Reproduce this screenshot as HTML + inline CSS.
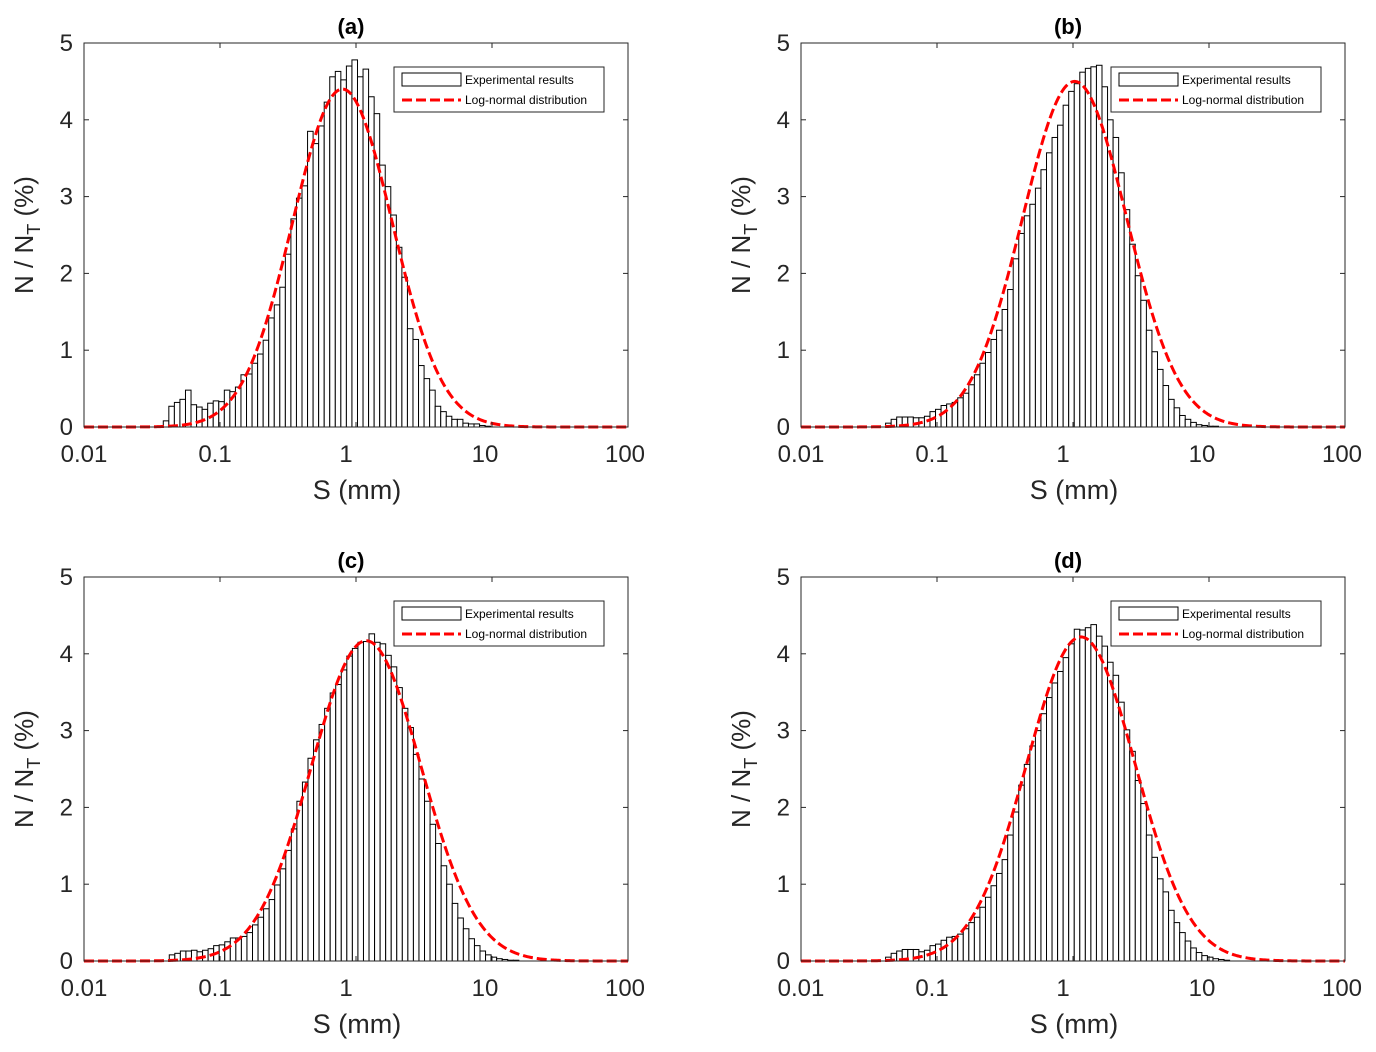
<!DOCTYPE html>
<html><head><meta charset="utf-8"><style>
html,body{margin:0;padding:0;background:#fff;}
svg{display:block;font-family:"Liberation Sans",Arial,sans-serif;}
</style></head><body>
<svg id="fig" width="1376" height="1052" viewBox="0 0 1376 1052"></svg>
<script>
// ---- data ----
const panelLabels = ["(a)","(b)","(c)","(d)"];
const xTickValues = [0.01,0.1,1,10,100];
const xTickLabels = ["0.01","0.1","1","10","100"];
const yTickValues = [0,1,2,3,4,5];
const binStartLog = [-1.417,-1.378,-1.373,-1.378];
const binWidthLog = [0.0408,0.0408,0.0408,0.0408];
const barsA = [0.08,0.27,0.32,0.36,0.48,0.29,0.26,0.23,0.31,0.34,0.33,0.48,0.46,0.52,0.68,0.69,0.83,0.95,1.13,1.42,1.59,1.82,2.25,2.71,2.98,3.14,3.85,3.69,3.92,4.23,4.56,4.63,4.52,4.70,4.78,4.56,4.66,4.30,4.08,3.41,3.13,2.76,2.34,1.95,1.28,1.14,0.80,0.63,0.48,0.27,0.20,0.14,0.10,0.10,0.05,0.04,0.04,0.02,0.01];
const barsB = [0.05,0.10,0.13,0.13,0.13,0.12,0.12,0.14,0.20,0.23,0.28,0.30,0.32,0.38,0.44,0.55,0.68,0.83,0.97,1.14,1.26,1.53,1.79,2.19,2.52,2.75,2.90,3.11,3.35,3.57,3.77,3.93,4.19,4.37,4.47,4.62,4.67,4.69,4.71,4.43,4.00,3.77,3.31,2.83,2.38,1.97,1.65,1.26,0.98,0.75,0.54,0.36,0.25,0.15,0.10,0.06,0.03,0.02,0.01,0.01];
const barsC = [0.08,0.10,0.13,0.13,0.14,0.12,0.14,0.16,0.20,0.21,0.25,0.30,0.30,0.32,0.37,0.47,0.57,0.68,0.80,0.99,1.20,1.44,1.72,2.08,2.33,2.64,2.88,3.08,3.29,3.49,3.60,3.79,3.97,4.07,4.15,4.16,4.26,4.15,4.13,3.98,3.83,3.56,3.29,3.04,2.69,2.37,2.08,1.78,1.53,1.24,1.00,0.75,0.56,0.42,0.29,0.20,0.13,0.08,0.05,0.03,0.02,0.01,0.01];
const barsD = [0.05,0.10,0.13,0.15,0.15,0.15,0.12,0.14,0.20,0.22,0.27,0.31,0.32,0.35,0.42,0.50,0.57,0.70,0.83,0.98,1.14,1.32,1.64,1.94,2.29,2.56,2.80,3.00,3.22,3.43,3.62,3.77,3.95,4.13,4.32,4.31,4.34,4.38,4.23,4.10,3.89,3.72,3.37,3.01,2.73,2.35,2.05,1.64,1.35,1.07,0.90,0.66,0.50,0.37,0.26,0.17,0.11,0.07,0.05,0.03,0.02,0.01];
const fitPeak = [4.40,4.50,4.17,4.22];
const fitMuLog = [-0.10,0.012,0.075,0.058];
const fitSigmaLog = [0.366,0.382,0.404,0.40];
</script>
<script>
const NS="http://www.w3.org/2000/svg";
const svg=document.getElementById('fig');
function mk(tag,attrs,parent){const e=document.createElementNS(NS,tag);for(const k in attrs)e.setAttribute(k,attrs[k]);(parent||svg).appendChild(e);return e;}
const allBars=[barsA,barsB,barsC,barsD];
const origins=[[84,43],[801,43],[84,577],[801,577]];
const labelShift=[0,-5,-10,-7,-3];
const W=544,H=384;
for(let p=0;p<4;p++){
  const [ox,oy]=origins[p];
  const g=mk('g',{});
  
  
  const X=v=>ox+(Math.log10(v)+2)/4*W;
  const XL=l=>ox+(l+2)/4*W;
  const Y=v=>oy+H-v/5*H;
  const bars=allBars[p];
  for(let i=0;i<bars.length;i++){
    const l0=binStartLog[p]+i*binWidthLog[p], l1=l0+binWidthLog[p];
    const r=mk('rect',{x:XL(l0),y:Y(bars[i]),width:XL(l1)-XL(l0),height:Y(0)-Y(bars[i]),fill:'#fff',stroke:'#000','stroke-width':1},g);
    
    
  }
  let d='';
  for(let k=0;k<=400;k++){
    const l=-2+4*k/400;
    const v=fitPeak[p]*Math.exp(-Math.pow(l-fitMuLog[p],2)/(2*fitSigmaLog[p]*fitSigmaLog[p]));
    d+=(k?'L':'M')+XL(l).toFixed(2)+','+Y(v).toFixed(2);
  }
  const c=mk('path',{d:d,fill:'none',stroke:'#f00','stroke-width':3,'stroke-dasharray':'10 4'},g);
  
  
  const fr=mk('rect',{x:ox,y:oy,width:W,height:H,fill:'none',stroke:'#262626','stroke-width':1},g);
  
  
  xTickValues.forEach((v,i)=>{
    const x=X(v);
    mk('line',{x1:x,x2:x,y1:oy+H,y2:oy+H-5,stroke:'#262626'},g);
    mk('line',{x1:x,x2:x,y1:oy,y2:oy+5,stroke:'#262626'},g);
    const t=mk('text',{x:x+labelShift[i],y:oy+H+35,'font-size':24,'text-anchor':'middle',fill:'#262626'},g);
    t.textContent=xTickLabels[i];
    
    
  });
  yTickValues.forEach(v=>{
    const y=Y(v);
    mk('line',{x1:ox,x2:ox+5,y1:y,y2:y,stroke:'#262626'},g);
    mk('line',{x1:ox+W,x2:ox+W-5,y1:y,y2:y,stroke:'#262626'},g);
    const t=mk('text',{x:ox-11,y:y+8,'font-size':24,'text-anchor':'end',fill:'#262626'},g);
    t.textContent=String(v);
    
    
  });
  const tt=mk('text',{x:ox+W/2-5,y:oy-9,'font-size':22,'font-weight':'bold','text-anchor':'middle',fill:'#000'},g);
  tt.textContent=panelLabels[p];
  
  
  const xt=mk('text',{x:ox+W/2+1,y:oy+H+72,'font-size':27,'text-anchor':'middle',fill:'#262626'},g);
  xt.textContent='S (mm)';
  
  
  const yt=mk('text',{transform:'translate('+(ox-51)+','+(oy+192)+') rotate(-90)','font-size':26,'text-anchor':'middle',fill:'#262626'},g);
  yt.innerHTML='N / N<tspan font-size="18" dy="7">T</tspan><tspan dy="-7"> (%)</tspan>';
  
  
  const lg=mk('g',{},g);
  
  
  const lx=ox+310, ly=oy+24;
  mk('rect',{x:lx,y:ly,width:210,height:45,fill:'#fff',stroke:'#262626','stroke-width':1},lg);
  mk('rect',{x:lx+8,y:ly+6,width:59,height:13,fill:'#fff',stroke:'#000','stroke-width':1},lg);
  mk('line',{x1:lx+8,x2:lx+67,y1:ly+33,y2:ly+33,stroke:'#f00','stroke-width':3,'stroke-dasharray':'10 4'},lg);
  const t1=mk('text',{x:lx+71,y:ly+17,'font-size':12,fill:'#000'},lg);
  t1.textContent='Experimental results';
  
  
  const t2=mk('text',{x:lx+71,y:ly+37,'font-size':12,fill:'#000'},lg);
  t2.textContent='Log-normal distribution';
  
  
}
</script>
</body></html>
